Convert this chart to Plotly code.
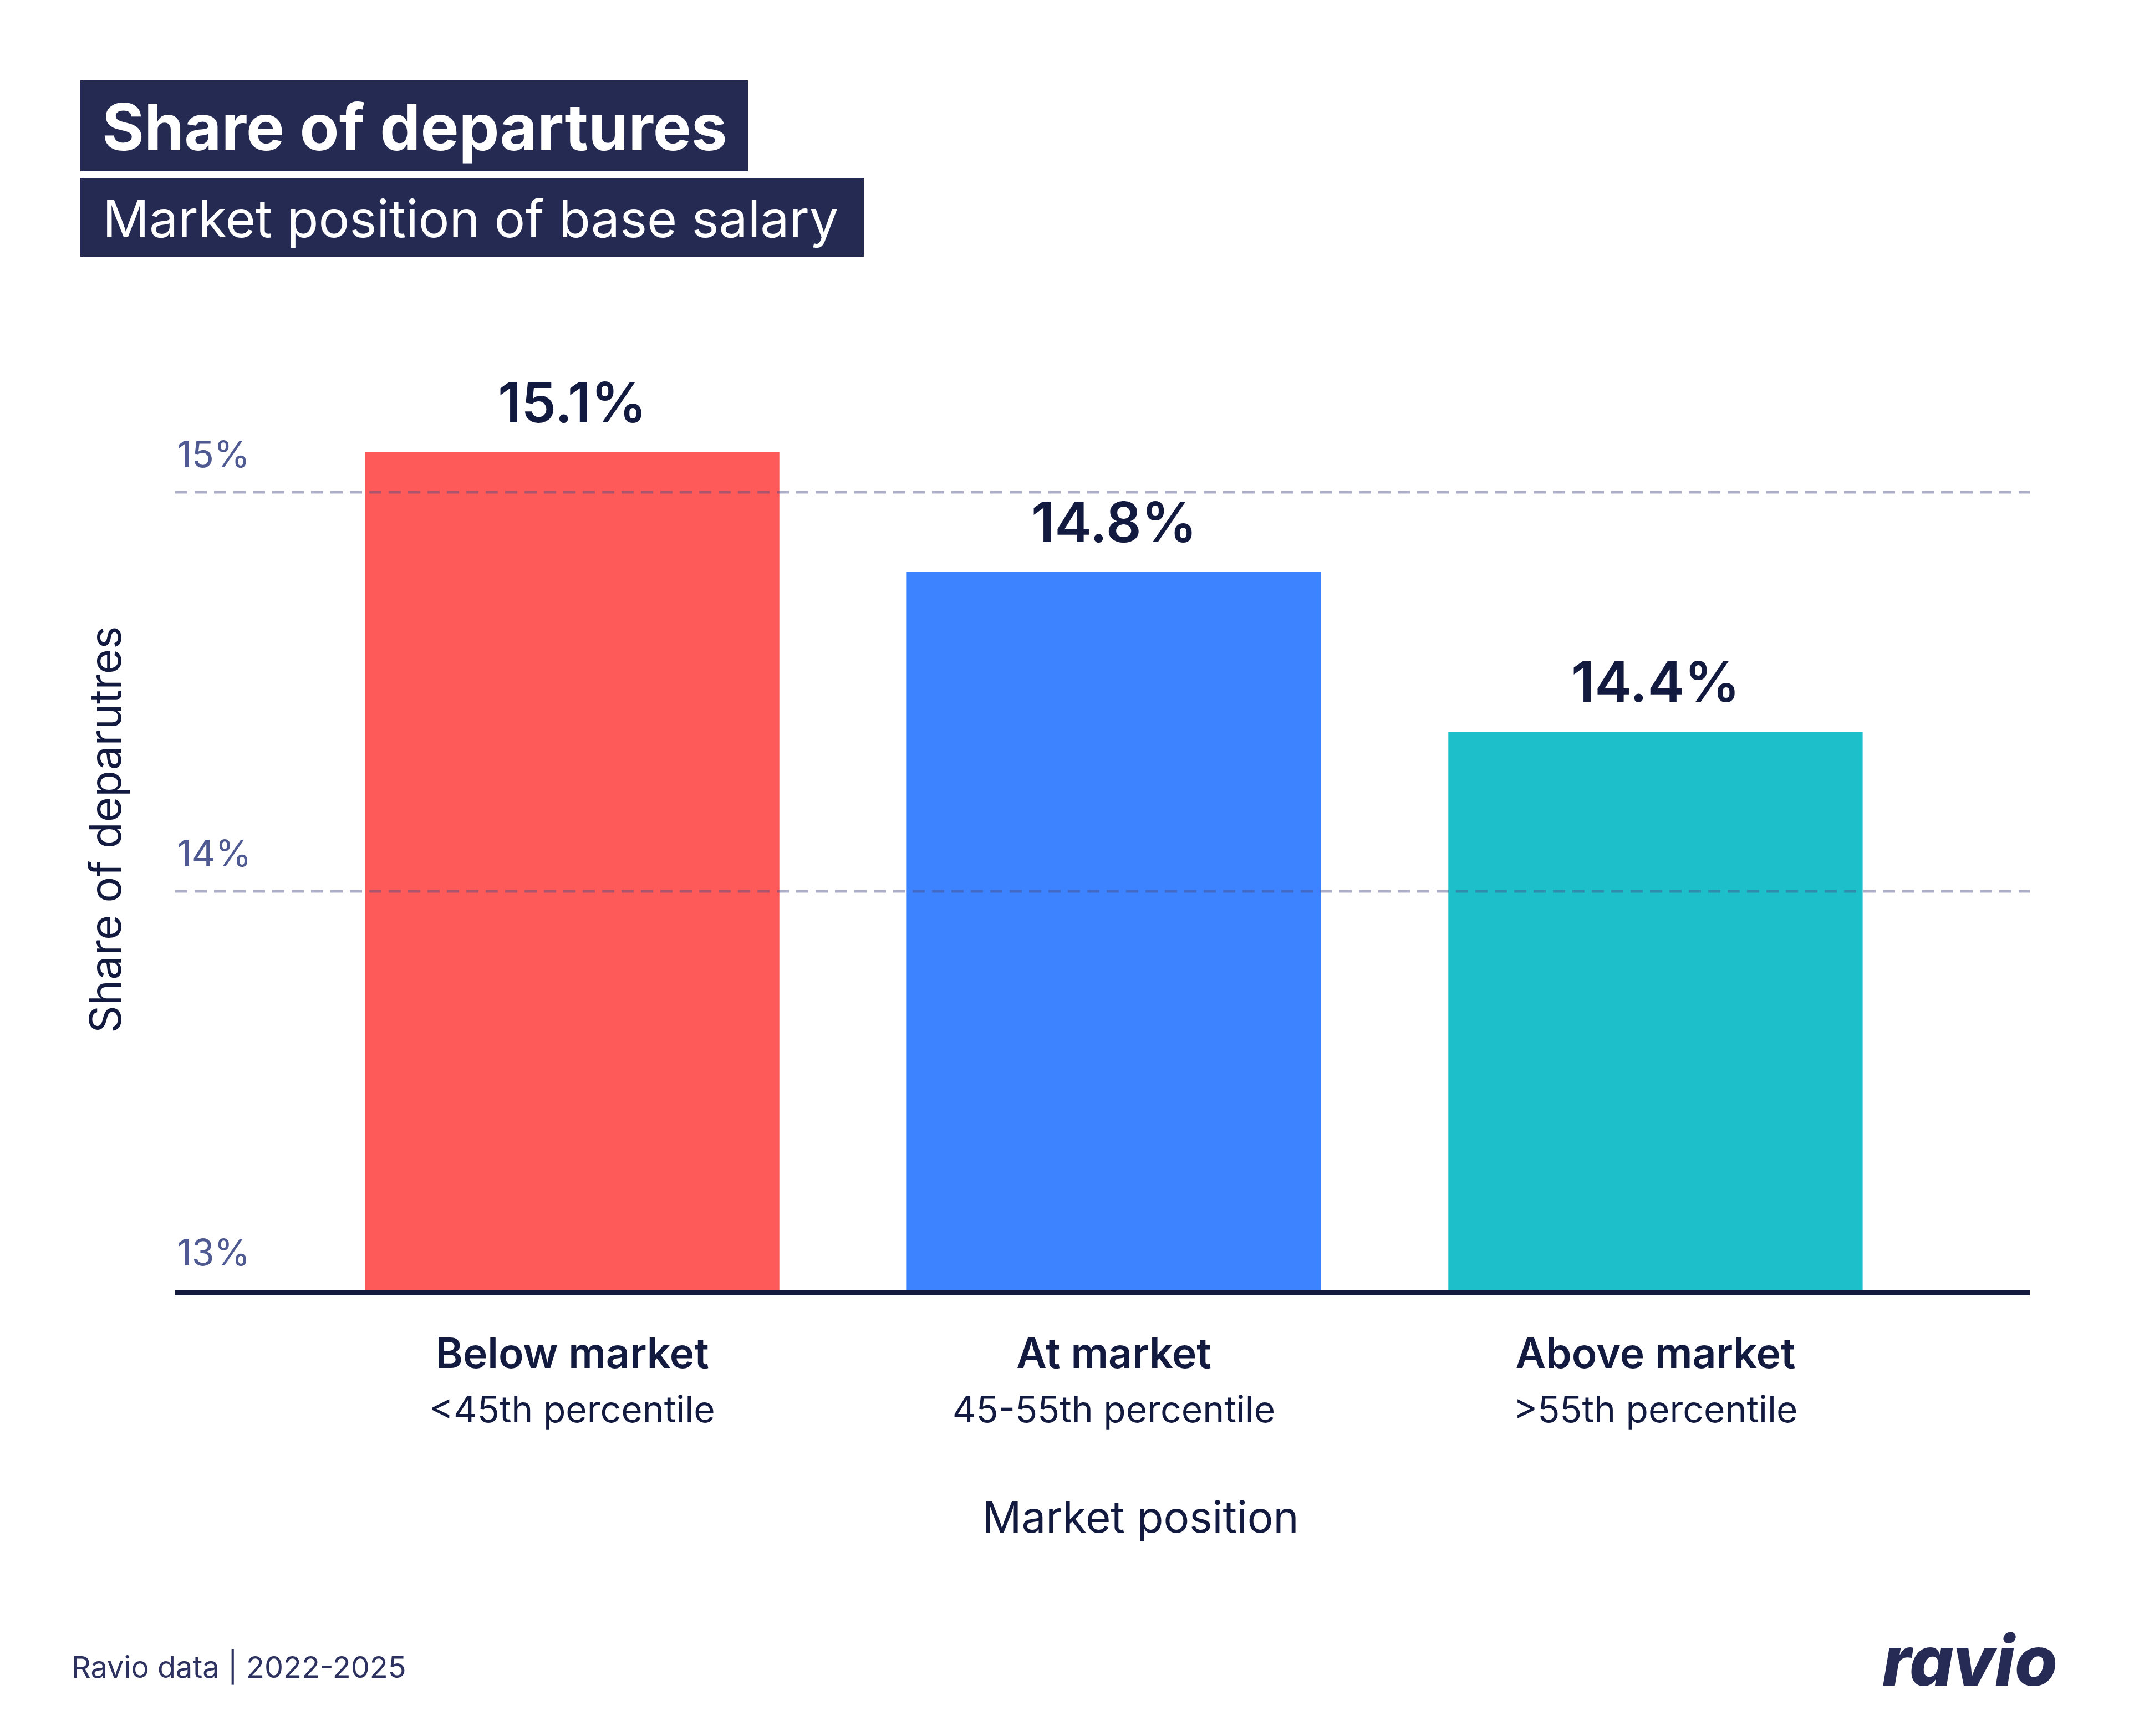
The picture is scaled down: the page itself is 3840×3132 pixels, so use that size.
import plotly.graph_objects as go

# ---- data ----
categories = ["Below market", "At market", "Above market"]
subcategories = ["&lt;45th percentile", "45-55th percentile", "&gt;55th percentile"]
values = [15.1, 14.8, 14.4]
bar_colors = ["#FF5A5A", "#3D82FF", "#1DBFCB"]
y_tickvals = [13, 14, 15]
y_ticktext = ["13%", "14%", "15%"]
grid_vals = [14, 15]

title = "Share of departures"
subtitle = "Market position of base salary"
x_title = "Market position"
y_title = "Share of deparutres"
footer = "Ravio data | 2022-2025"
logo = "ravio"

# ---- geometry (page has an 8px body margin) ----
OFF = 8
W, H = 3840 - 2 * OFF, 3132 - 2 * OFF
ML, MR, MT, MB = 308, 171, 480, 796
PW, PH = W - ML - MR, H - MT - MB


def px(x):
    return (x - OFF - ML) / PW


def py(y):
    return (H - MB - (y - OFF)) / PH


NAVY = "#252A52"
TEXT = "#131A40"
TICK = "#4F5A92"
FONT = "Inter"

xs = list(range(len(categories)))
ticktext = [
    f"<span style='font-weight:600'>{c}</span><br><span style='font-size:66px'>{s}</span>"
    for c, s in zip(categories, subcategories)
]

fig = go.Figure()
fig.add_trace(go.Bar(
    x=xs, y=values,
    marker=dict(color=bar_colors, line=dict(width=0)),
    width=0.765,
    hoverinfo="skip",
))

annotations = []
for x, v in zip(xs, values):
    annotations.append(dict(
        x=x, y=v, xref="x", yref="y", text=f"{v:.1f}%",
        showarrow=False, yanchor="bottom", yshift=28,
        font=dict(family=FONT, size=100, color=TEXT, weight=600),
    ))

shapes = []
for g in grid_vals:
    shapes.append(dict(
        type="line", xref="paper", yref="y", x0=0, x1=1, y0=g, y1=g,
        line=dict(color="rgba(70,78,130,0.45)", width=5, dash="22px,13px"),
        layer="above",
    ))

# title boxes
shapes.append(dict(type="rect", xref="paper", yref="paper",
                   x0=px(145), x1=px(1349), y0=py(309), y1=py(145),
                   fillcolor=NAVY, line=dict(width=0), layer="above"))
shapes.append(dict(type="rect", xref="paper", yref="paper",
                   x0=px(145), x1=px(1558), y0=py(463), y1=py(321),
                   fillcolor=NAVY, line=dict(width=0), layer="above"))

annotations += [
    dict(xref="paper", yref="paper", x=px(182), y=py(229), xanchor="left", yanchor="middle",
         text=title, showarrow=False,
         font=dict(family=FONT, size=116, color="white", weight=700)),
    dict(xref="paper", yref="paper", x=px(183), y=py(394), xanchor="left", yanchor="middle",
         text=subtitle, showarrow=False,
         font=dict(family=FONT, size=93, color="white", weight=400)),
    dict(xref="paper", yref="paper", x=px(2057), y=py(2736), xanchor="center", yanchor="middle",
         text=x_title, showarrow=False,
         font=dict(family=FONT, size=78, color=TEXT)),
    dict(xref="paper", yref="paper", x=px(189), y=py(1497), xanchor="center", yanchor="middle",
         text=y_title, textangle=-90, showarrow=False,
         font=dict(family=FONT, size=78, color=TEXT)),
    dict(xref="paper", yref="paper", x=px(127), y=py(3007), xanchor="left", yanchor="middle",
         text=footer, showarrow=False,
         font=dict(family=FONT, size=54, color="#2C3160")),
    dict(xref="paper", yref="paper", x=px(3553), y=py(2995), xanchor="center", yanchor="middle",
         text=logo, showarrow=False,
         font=dict(family=FONT, size=125, color="#262B55", weight=800, style="italic")),
]

fig.update_layout(
    width=W, height=H,
    margin=dict(l=ML, r=MR, t=MT, b=MB, autoexpand=False),
    paper_bgcolor="white", plot_bgcolor="white",
    showlegend=False,
    font=dict(family=FONT, color=TEXT),
    annotations=annotations,
    shapes=shapes,
    xaxis=dict(
        range=[-0.733, 2.691], tickvals=xs, ticktext=ticktext,
        showline=True, linecolor="#141A3D", linewidth=9,
        showgrid=False, zeroline=False, ticks="",
        tickfont=dict(family=FONT, size=75, color=TEXT),
        ticklabelstandoff=41,
    ),
    yaxis=dict(
        range=[13, 13 + PH / 720], tickvals=y_tickvals, ticktext=y_ticktext,
        ticklabelposition="inside top", ticklabelshift=-22,
        showline=False, showgrid=False, zeroline=False, ticks="",
        tickfont=dict(family=FONT, size=66, color=TICK),
    ),
)

fig.write_html("out.html")
